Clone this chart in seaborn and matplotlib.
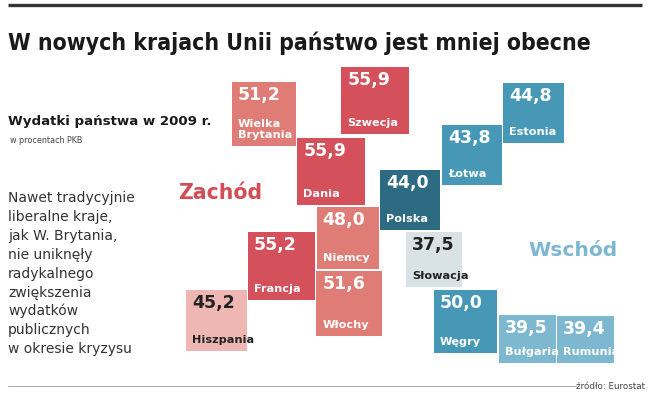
import numpy as np
import pandas as pd
import matplotlib
matplotlib.use("Agg")
import matplotlib.pyplot as plt
import seaborn as sns
from matplotlib import font_manager
from matplotlib.font_manager import FontProperties

# ---- data ----
countries = ["Wielka\nBrytania", "Szwecja", "Dania", "Niemcy", "Francja", "Włochy",
             "Hiszpania", "Polska", "Łotwa", "Estonia", "Słowacja", "Węgry",
             "Bułgaria", "Rumunia"]
values = [51.2, 55.9, 55.9, 48.0, 55.2, 51.6, 45.2, 44.0, 43.8, 44.8, 37.5, 50.0, 39.5, 39.4]
groups = ["Zachód"] * 7 + ["Wschód"] * 7

# ---- layout (tile centres in pixel space) ----
center_x = [264, 375, 331, 348, 281.5, 349, 216.5, 410, 472, 533.5, 434, 465.5, 527.5, 585.5]
center_y = [114, 100.5, 171.5, 238, 266, 303.5, 320.5, 200, 155, 113, 259.5, 321.5, 343.5, 344.4]

# ---- style ----
tile_colors = ["#de7c75", "#d4505a", "#d4505a", "#de7c75", "#d4505a", "#de7c75",
               "#efb7b3", "#2d6b82", "#4798b7", "#4798b7", "#d9e2e5", "#4798b7",
               "#7db7d0", "#7db7d0"]
text_colors = ["white"] * 6 + ["#222222"] + ["white"] * 3 + ["#222222"] + ["white"] * 3

W, H = 650, 397
DPI = 100
PX_PER_SQRT = 9.05           # tile side (px) per sqrt(value)
CLIP_Y = 363                 # tiles are cut at this pixel row
TITLE_WIDTH_PX = 582

df = pd.DataFrame({"kraj": countries, "wartosc": values, "grupa": groups,
                   "cx": center_x, "cy": center_y})

sns.set_theme(style="white")
plt.rcParams["font.family"] = ["DejaVu Sans"]

# look for a condensed bold face for the title
title_fp = FontProperties(family="DejaVu Sans", weight="bold")
for f in font_manager.fontManager.ttflist:
    nm = (f.name + " " + str(f.fname)).lower()
    if ("condensed" in nm or "narrow" in nm) and "bold" in str(f.fname).lower() \
            and "italic" not in str(f.fname).lower() and "oblique" not in str(f.fname).lower() \
            and "semi" not in str(f.fname).lower() and "extra" not in str(f.fname).lower():
        title_fp = FontProperties(fname=f.fname)
        break

fig = plt.figure(figsize=(W / DPI, H / DPI), dpi=DPI)
fig.patch.set_facecolor("white")
ax = fig.add_axes([0, (H - CLIP_Y) / H, 1, CLIP_Y / H])
ax.set_xlim(0, W)
ax.set_ylim(CLIP_Y, 0)
ax.axis("off")

# area of square marker proportional to value
k = (PX_PER_SQRT * 72 / DPI) ** 2
sns.scatterplot(data=df, x="cx", y="cy", hue="kraj",
                palette=dict(zip(countries, tile_colors)),
                size="wartosc", sizes=(0, k * 100), size_norm=(0, 100),
                marker="s", linewidth=0, legend=False, ax=ax)

for _, r in df.iterrows():
    side = PX_PER_SQRT * np.sqrt(r["wartosc"])
    x0 = r["cx"] - side / 2
    y0 = r["cy"] - side / 2
    y1 = min(r["cy"] + side / 2, CLIP_Y)
    i = countries.index(r["kraj"])
    tc = text_colors[i]
    ax.text(x0 + 6, y0 + 4, f"{r['wartosc']:.1f}".replace(".", ","),
            ha="left", va="top", fontsize=12.5, fontweight="bold", color=tc)
    ax.text(x0 + 6, y1 - 8, r["kraj"], ha="left", va="baseline",
            fontsize=8.1, fontweight="bold", color=tc, linespacing=1.2)

# group labels
ax.text(178, 193, "Zachód", fontsize=14.8, fontweight="bold", color="#d24d55",
        ha="left", va="center")
ax.text(528, 250, "Wschód", fontsize=14.6, fontweight="bold", color="#7db7d0",
        ha="left", va="center")

# rules
ax.plot([8, 642], [5, 5], color="#333333", lw=2.4, clip_on=False, solid_capstyle="butt")
ax.plot([8, 576], [385.5, 385.5], color="#9a9a9a", lw=0.6, clip_on=False)

# title, fitted to the reference width
title = ax.text(8, 50, "W nowych krajach Unii państwo jest mniej obecne",
                fontproperties=title_fp, fontsize=18,
                color="#1a1a1a", ha="left", va="baseline", clip_on=False)
fig.canvas.draw()
w = title.get_window_extent().width
title.set_fontsize(18 * TITLE_WIDTH_PX / w)

ax.text(8, 125, "Wydatki państwa w 2009 r.", fontsize=9.6, fontweight="bold",
        color="#1a1a1a", ha="left", va="baseline")
ax.text(10, 143, "w procentach PKB", fontsize=5.8, color="#444444",
        ha="left", va="baseline")

para = ["Nawet tradycyjnie", "liberalne kraje,", "jak W. Brytania,", "nie uniknęły",
        "radykalnego", "zwiększenia", "wydatków", "publicznych", "w okresie kryzysu"]
for j, line in enumerate(para):
    ax.text(8, 202 + j * 18.9, line, fontsize=10, color="#333333",
            ha="left", va="baseline", clip_on=False)

ax.text(645, 389, "źródło: Eurostat", fontsize=6.3, color="#444444",
        ha="right", va="baseline", clip_on=False)

fig.savefig("out.png", dpi=DPI)
